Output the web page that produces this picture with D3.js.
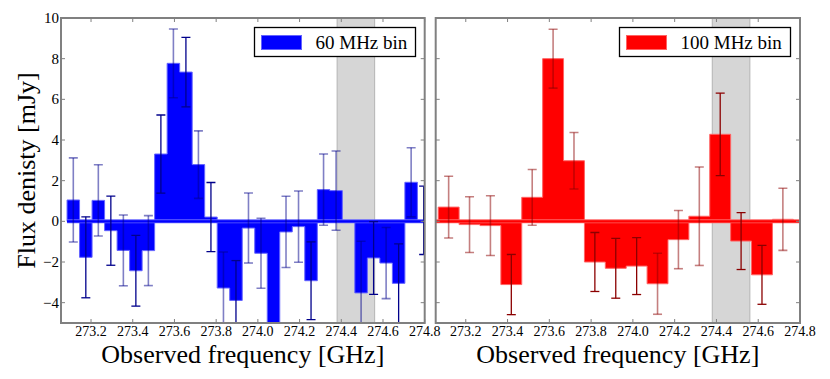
<!DOCTYPE html>
<html>
<head>
<meta charset="utf-8">
<script src="https://cdn.jsdelivr.net/npm/d3@7"></script>
<style>
  body { margin: 0; background: #fff; }
  svg text { font-family: 'Liberation Serif', 'DejaVu Serif', serif; fill: #000; }
</style>
</head>
<body>
<div id="chartContainer"></div>
<script>
// 60 MHz binned spectrum (bin centres in GHz, flux in mJy)
const freq60 = [273.115, 273.175, 273.235, 273.295, 273.355, 273.415, 273.475, 273.535, 273.595, 273.655,
                273.715, 273.775, 273.835, 273.895, 273.955, 274.015, 274.075, 274.135, 274.195, 274.255,
                274.315, 274.375, 274.435, 274.495, 274.555, 274.615, 274.675, 274.735, 274.795];
const flux60 = [1.05, -1.77, 1.03, -0.46, -1.43, -2.43, -1.44, 3.31, 7.77, 7.34,
                2.79, 0.21, -3.28, -3.89, -0.33, -1.57, -7.0, -0.52, -0.26, -2.92,
                1.56, 1.51, 0.0, -3.52, -1.80, -2.05, -3.05, 1.92, 0.05];
const err60 = [2.07, 1.99, 1.75, 1.70, 1.74, 1.74, 1.72, 1.92, 1.69, 1.71,
               1.66, 1.70, 1.77, 1.96, 1.72, 1.72, 1.75, 1.75, 1.75, 1.91,
               1.75, 1.95, null, 2.54, 1.79, 1.75, 1.94, 1.70, 1.68];

// 100 MHz binned spectrum
const freq100 = [273.118, 273.218, 273.318, 273.418, 273.518, 273.618, 273.718, 273.818, 273.918,
                 274.018, 274.118, 274.218, 274.318, 274.418, 274.518, 274.618, 274.718];
const flux100 = [0.70, -0.16, -0.21, -3.11, 1.18, 8.00, 2.98, -2.00, -2.31,
                 -2.20, -3.07, -0.90, 0.25, 4.28, -0.97, -2.63, 0.10];
const err100 = [1.52, 1.37, 1.47, 1.48, 1.37, 1.45, 1.39, 1.45, 1.47,
                1.40, 1.50, 1.43, 2.42, 2.03, 1.40, 1.45, 1.53];

const xTicks = [273.2, 273.4, 273.6, 273.8, 274.0, 274.2, 274.4, 274.6, 274.8];
const yTicks = [-4, -2, 0, 2, 4, 6, 8, 10];
const xDomain = [273.056, 274.8];
const yDomain = [-5, 10];
const band = [274.38, 274.56];

var width = 830,
    height = 379;
const plotTop = 18, plotBottom = 323;

var svg = d3.select('#chartContainer')
    .append('svg')
    .attr('width', width)
    .attr('height', height);

var y = d3.scaleLinear().domain(yDomain).range([plotBottom, plotTop]);

function panel(opt) {
    var x = d3.scaleLinear().domain(xDomain).range([opt.left, opt.right]);
    var g = svg.append('g');

    g.append('clipPath').attr('id', opt.id)
        .append('rect')
        .attr('x', opt.left).attr('y', plotTop)
        .attr('width', opt.right - opt.left).attr('height', plotBottom - plotTop);

    var plot = g.append('g').attr('clip-path', 'url(#' + opt.id + ')');

    // shaded region
    plot.append('rect')
        .attr('x', x(band[0]))
        .attr('y', plotTop)
        .attr('width', x(band[1]) - x(band[0]))
        .attr('height', plotBottom - plotTop)
        .style('fill', '#d6d6d6')
        .style('stroke', '#b4b4b4')
        .style('stroke-width', 1);

    // step outline of the bins
    var half = opt.bin / 2;
    var pts = [];
    opt.freq.forEach(function (f, i) {
        pts.push([f - half, opt.flux[i]]);
        pts.push([f + half, opt.flux[i]]);
    });

    var area = d3.area()
        .x(function (d) { return x(d[0]); })
        .y0(y(0))
        .y1(function (d) { return y(d[1]); });
    var line = d3.line()
        .x(function (d) { return x(d[0]); })
        .y(function (d) { return y(d[1]); });

    plot.append('path')
        .datum(pts)
        .attr('d', area)
        .style('fill', opt.color)
        .style('stroke', 'none');

    // vertical edges + tops
    var outline = [[pts[0][0], 0]].concat(pts).concat([[pts[pts.length - 1][0], 0]]);
    plot.append('path')
        .datum(outline)
        .attr('d', line)
        .style('fill', 'none')
        .style('stroke', opt.edge)
        .style('stroke-width', 1);

    plot.append('line')
        .attr('x1', x(opt.zeroFrom)).attr('x2', opt.right)
        .attr('y1', y(0)).attr('y2', y(0))
        .style('stroke', opt.edge)
        .style('stroke-width', 4);
    plot.append('line')
        .attr('x1', x(opt.zeroFrom)).attr('x2', opt.right)
        .attr('y1', y(0)).attr('y2', y(0))
        .style('stroke', opt.color)
        .style('stroke-width', 2.4);

    // error bars
    var eb = plot.selectAll('g.err')
        .data(opt.freq.map(function (f, i) { return { f: f, v: opt.flux[i], e: opt.err[i], i: i }; })
            .filter(function (d) { return d.e !== null; }))
        .enter()
        .append('g')
        .style('stroke', function (d) { return opt.dark.has(d.i) ? opt.errDark : opt.errLight; })
        .style('stroke-width', function (d) { return opt.dark.has(d.i) ? 1.3 : 1.6; });
    eb.append('line')
        .attr('x1', function (d) { return x(d.f); })
        .attr('x2', function (d) { return x(d.f); })
        .attr('y1', function (d) { return y(d.v + d.e); })
        .attr('y2', function (d) { return y(d.v - d.e); });
    eb.append('line')
        .attr('x1', function (d) { return x(d.f) - 4.5; })
        .attr('x2', function (d) { return x(d.f) + 4.5; })
        .attr('y1', function (d) { return y(d.v + d.e); })
        .attr('y2', function (d) { return y(d.v + d.e); });
    eb.append('line')
        .attr('x1', function (d) { return x(d.f) - 4.5; })
        .attr('x2', function (d) { return x(d.f) + 4.5; })
        .attr('y1', function (d) { return y(d.v - d.e); })
        .attr('y2', function (d) { return y(d.v - d.e); });

    // ticks on all four sides, pointing in
    var tk = g.append('g').style('stroke', '#808080').style('stroke-width', 1);
    xTicks.forEach(function (t) {
        tk.append('line').attr('x1', x(t)).attr('x2', x(t)).attr('y1', plotBottom).attr('y2', plotBottom - 4);
        tk.append('line').attr('x1', x(t)).attr('x2', x(t)).attr('y1', plotTop).attr('y2', plotTop + 4);
    });
    yTicks.forEach(function (t) {
        tk.append('line').attr('x1', opt.left).attr('x2', opt.left + 4).attr('y1', y(t)).attr('y2', y(t));
        tk.append('line').attr('x1', opt.right).attr('x2', opt.right - 4).attr('y1', y(t)).attr('y2', y(t));
    });

    g.append('rect')
        .attr('x', opt.left).attr('y', plotTop)
        .attr('width', opt.right - opt.left).attr('height', plotBottom - plotTop)
        .style('fill', 'none')
        .style('stroke', '#808080')
        .style('stroke-width', 2);

    g.selectAll('text.xt')
        .data(xTicks)
        .enter()
        .append('text')
        .attr('x', function (d) { return x(d); })
        .attr('y', 336)
        .attr('text-anchor', 'middle')
        .style('font-size', '14px')
        .text(function (d) { return d.toFixed(1); });

    g.append('text')
        .attr('x', (opt.left + opt.right) / 2)
        .attr('y', 363)
        .attr('text-anchor', 'middle')
        .style('font-size', '26px')
        .text('Observed frequency [GHz]');

    // legend
    var lg = g.append('g');
    lg.append('rect')
        .attr('x', opt.legX).attr('y', 27.5)
        .attr('width', opt.legW).attr('height', 29)
        .style('fill', '#fff')
        .style('stroke', '#000')
        .style('stroke-width', 1.3);
    lg.append('rect')
        .attr('x', opt.legX + 7).attr('y', 35.5)
        .attr('width', 40).attr('height', 14)
        .style('fill', opt.color)
        .style('stroke', opt.edge)
        .style('stroke-width', 1);
    lg.append('text')
        .attr('x', opt.legX + 61).attr('y', 48.5)
        .style('font-size', '19px')
        .text(opt.label);

    if (opt.yLabels) {
        g.selectAll('text.yt')
            .data(yTicks)
            .enter()
            .append('text')
            .attr('x', opt.left - 2)
            .attr('y', function (d) { return y(d) + 5; })
            .attr('text-anchor', 'end')
            .style('font-size', '15px')
            .text(function (d) { return d < 0 ? '\u2212' + Math.abs(d) : d; });

        g.append('text')
            .attr('transform', 'translate(35,' + ((plotTop + plotBottom) / 2) + ') rotate(-90)')
            .attr('text-anchor', 'middle')
            .style('font-size', '26px')
            .text('Flux denisty [mJy]');
    }
}

panel({
    id: 'clipA', left: 61, right: 424.7,
    freq: freq60, flux: flux60, err: err60, bin: 0.06,
    zeroFrom: freq60[0] - 0.03,
    color: '#0000ff', edge: '#6464ff',
    errLight: 'rgba(0,0,139,0.5)', errDark: '#00008b',
    dark: new Set([1, 3, 5, 7, 9, 11, 13, 19, 24, 26, 28]),
    legX: 254.5, legW: 161, label: '60 MHz bin',
    yLabels: true
});

panel({
    id: 'clipB', left: 435.7, right: 800,
    freq: freq100, flux: flux100, err: err100, bin: 0.1,
    zeroFrom: xDomain[0],
    color: '#ff0000', edge: '#ff6464',
    errLight: 'rgba(139,0,0,0.5)', errDark: '#8b0000',
    dark: new Set([3, 7, 8, 9, 13, 14, 15]),
    legX: 619.5, legW: 171, label: '100 MHz bin',
    yLabels: false
});
</script>
</body>
</html>
